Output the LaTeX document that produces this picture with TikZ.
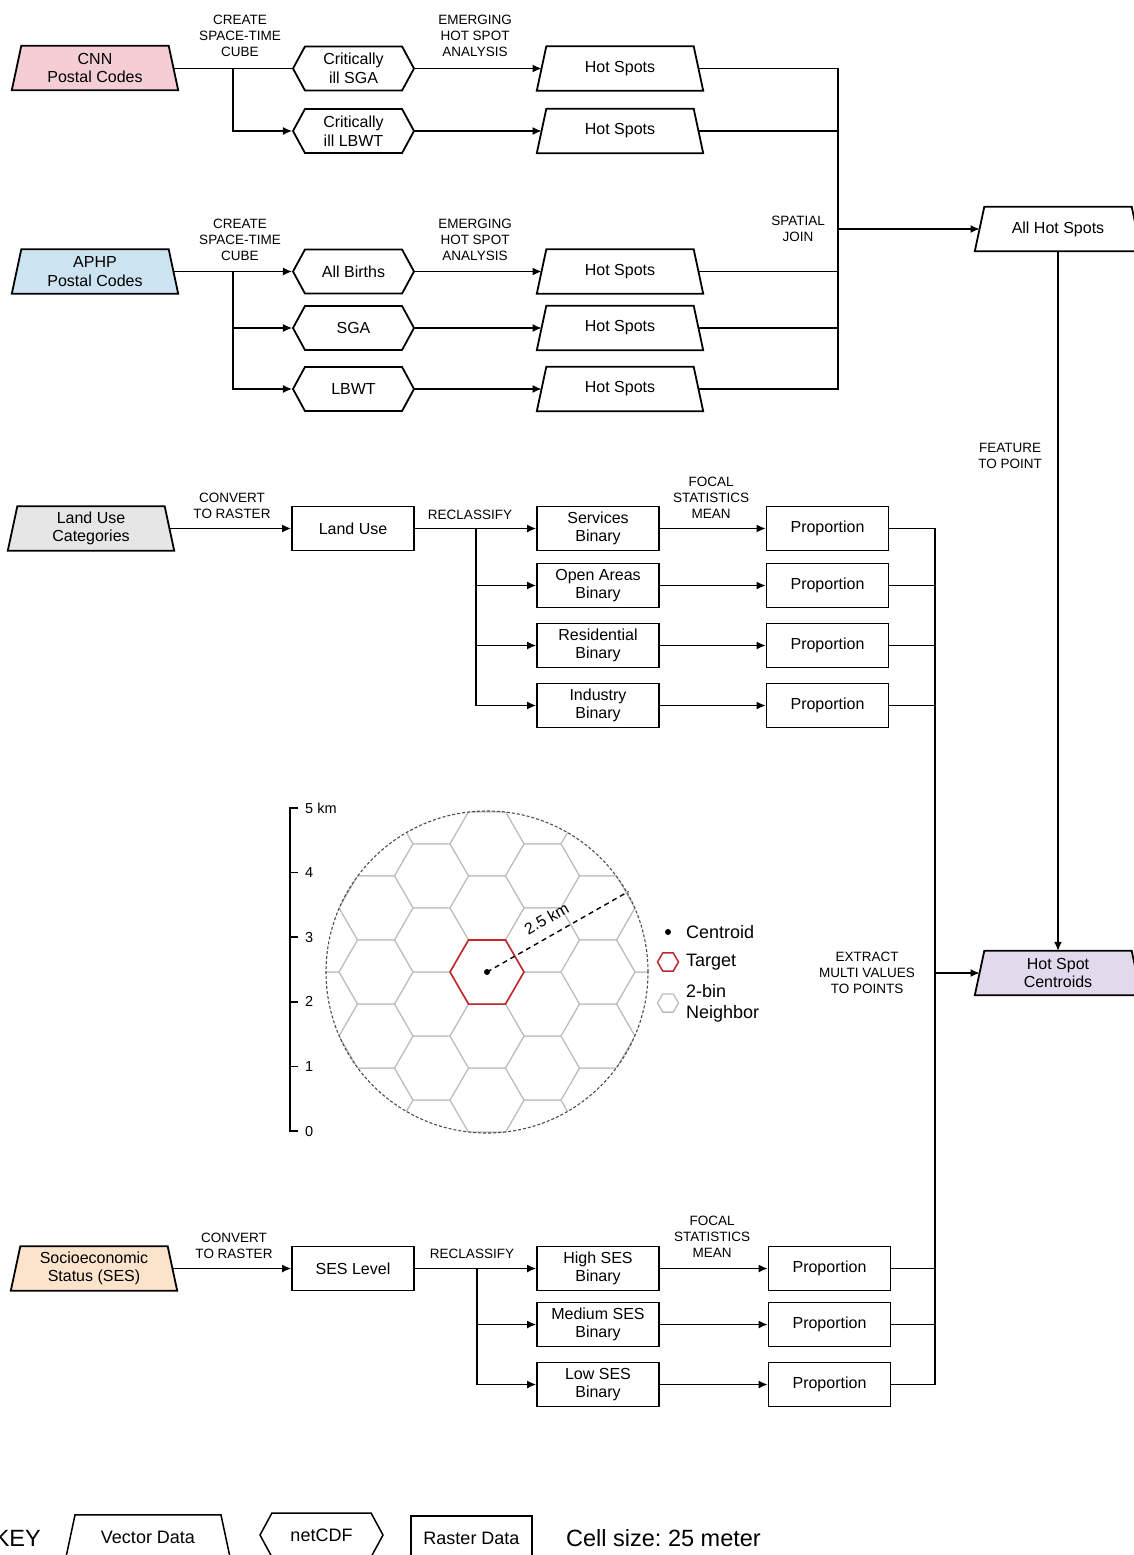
\documentclass[tikz,border=0pt]{standalone}
\usepackage{fontspec}
\setmainfont{Liberation Sans}
\usetikzlibrary{shapes.geometric,shapes.symbols,arrows.meta,backgrounds}
\definecolor{cnnpink}{HTML}{F4CDD5}
\definecolor{aphpblue}{HTML}{CCE4F2}
\definecolor{lugray}{HTML}{E6E6E6}
\definecolor{sespeach}{HTML}{FCE4CC}
\definecolor{centpurple}{HTML}{E2DAEC}
\definecolor{hexgray}{HTML}{BDBDBD}
\definecolor{targetred}{HTML}{C0282D}
\newcommand\fMain{\fontsize{16pt}{18.5pt}\selectfont}
\newcommand\fLbl{\fontsize{13.5pt}{16pt}\selectfont}
\newcommand\fLeg{\fontsize{18pt}{21pt}\selectfont}
\newcommand\fAx{\fontsize{14.5pt}{16pt}\selectfont}
\newcommand\fKeyS{\fontsize{18pt}{20pt}\selectfont}
\newcommand\fKeyL{\fontsize{23.5pt}{26pt}\selectfont}
\frenchspacing
\begin{document}
\begin{tikzpicture}[x=1pt,y=-1pt,
  vec/.style={rectangle, minimum width=156.5pt, minimum height=44pt, inner sep=1pt,
    align=center, font=\fMain},
  trap/.style={line width=1.8pt, draw=black},
  nc/.style={signal, signal to=west and east, signal pointer angle=123, draw, line width=1.8pt,
    minimum width=121pt, minimum height=44pt, inner sep=1pt, align=center, font=\fMain},
  ras/.style={rectangle, draw, line width=1.8pt, minimum width=122pt, minimum height=44pt,
    inner sep=1pt, align=center, font=\fMain},
  conn/.style={line width=1.3pt},
  arr/.style={conn, -{Latex[length=9pt,width=8pt]}},
  lbl/.style={align=center, font=\fLbl, inner sep=0pt},
  hexgrid/.style={draw=hexgray, line width=1pt},
]
\useasboundingbox (0,0) rectangle (1134,1555);

% ---------- CNN block ----------
\node[vec] (cnn) at (95,68) {CNN\\Postal Codes};
\node[nc] (csga) at (353.5,68.5) {Critically\\ill SGA};
\node[nc] (clbwt) at (353.5,131) {Critically\\ill LBWT};
\node[vec] (hs1) at (620,68.5) {Hot Spots};
\node[vec] (hs2) at (620,131) {Hot Spots};
\node[lbl] (t1) at (240,36) {CREATE\\SPACE-TIME\\CUBE};
\node[lbl] (t2) at (475,36) {EMERGING\\HOT SPOT\\ANALYSIS};
\coordinate (b1) at (233,68.5);
\draw[conn] (cnn.east |- csga.west) -- (csga.west);
\draw[arr] (b1) |- (clbwt.west);
\draw[arr] (csga.east) -- (hs1.west);
\draw[arr] (clbwt.east) -- (hs2.west);

% ---------- APHP block ----------
\node[vec] (aphp) at (95,271.5) {APHP\\Postal Codes};
\node[nc] (ab) at (353.5,271.5) {All Births};
\node[nc] (sga) at (353.5,328) {SGA};
\node[nc] (lbwt) at (353.5,389) {LBWT};
\node[vec] (hs3) at (620,271.5) {Hot Spots};
\node[vec] (hs4) at (620,328) {Hot Spots};
\node[vec] (hs5) at (620,389) {Hot Spots};
\node[lbl] (t3) at (240,240) {CREATE\\SPACE-TIME\\CUBE};
\node[lbl] (t4) at (475,240) {EMERGING\\HOT SPOT\\ANALYSIS};
\coordinate (b2) at (233,271.5);
\draw[arr] (aphp.east) -- (ab.west);
\draw[arr] (b2) |- (sga.west);
\draw[arr] (b2) |- (lbwt.west);
\draw[arr] (ab.east) -- (hs3.west);
\draw[arr] (sga.east) -- (hs4.west);
\draw[arr] (lbwt.east) -- (hs5.west);

% ---------- spatial join ----------
\node[lbl] (t5) at (798,228.5) {SPATIAL\\JOIN};
\node[vec] (allhs) at (1058,229) {All Hot Spots};
\coordinate (sj) at (838,229);
\foreach \n in {hs1,hs2,hs3,hs4,hs5} \draw[conn] (\n.east) -| (sj);
\draw[arr] (sj) -- (allhs.west);

\node[lbl] (t6) at (1010,455.5) {FEATURE\\TO POINT};
\node[vec] (cent) at (1058,973) {Hot Spot\\Centroids};
\draw[arr] (allhs.south) -- (cent.north);
\node[lbl] (t7) at (867,972.5) {EXTRACT\\MULTI VALUES\\TO POINTS};

% ---------- Land use block ----------
\node[vec] (luc) at (91,528.5) {Land Use\\Categories};
\node[ras] (lu) at (353,528.5) {Land Use};
\node[ras] (sb) at (598,528.5) {Services\\Binary};
\node[ras] (ob) at (598,585.5) {Open Areas\\Binary};
\node[ras] (rb) at (598,645.5) {Residential\\Binary};
\node[ras] (ib) at (598,705.5) {Industry\\Binary};
\node[ras] (p1) at (827.5,528.5) {Proportion};
\node[ras] (p2) at (827.5,585.5) {Proportion};
\node[ras] (p3) at (827.5,645.5) {Proportion};
\node[ras] (p4) at (827.5,705.5) {Proportion};
\node[lbl] (t8) at (232,505.5) {CONVERT\\TO RASTER};
\node[lbl] (t9) at (470,514.5) {RECLASSIFY};
\node[lbl] (t10) at (711,497.5) {FOCAL\\STATISTICS\\MEAN};
\coordinate (b3) at (476,528.5);
\draw[arr] (luc.east) -- (lu.west);
\draw[arr] (lu.east) -- (sb.west);
\draw[arr] (b3) |- (ob.west);
\draw[arr] (b3) |- (rb.west);
\draw[arr] (b3) |- (ib.west);
\draw[arr] (sb.east) -- (p1.west);
\draw[arr] (ob.east) -- (p2.west);
\draw[arr] (rb.east) -- (p3.west);
\draw[arr] (ib.east) -- (p4.west);

% ---------- SES block ----------
\node[vec] (ses) at (94,1268.5) {Socioeconomic\\Status (SES)};
\node[ras] (sl) at (353,1268.5) {SES Level};
\node[ras] (hb) at (598,1268.5) {High SES\\Binary};
\node[ras] (mb) at (598,1324.5) {Medium SES\\Binary};
\node[ras] (lb) at (598,1384.5) {Low SES\\Binary};
\node[ras] (p5) at (829.5,1268.5) {Proportion};
\node[ras] (p6) at (829.5,1324.5) {Proportion};
\node[ras] (p7) at (829.5,1384.5) {Proportion};
\node[lbl] (t11) at (234,1245.5) {CONVERT\\TO RASTER};
\node[lbl] (t12) at (472,1253.5) {RECLASSIFY};
\node[lbl] (t13) at (712,1236.5) {FOCAL\\STATISTICS\\MEAN};
\coordinate (b4) at (477,1268.5);
\draw[arr] (ses.east) -- (sl.west);
\draw[arr] (sl.east) -- (hb.west);
\draw[arr] (b4) |- (mb.west);
\draw[arr] (b4) |- (lb.west);
\draw[arr] (hb.east) -- (p5.west);
\draw[arr] (mb.east) -- (p6.west);
\draw[arr] (lb.east) -- (p7.west);

% ---------- extract ----------
\coordinate (ex) at (935,973);
\foreach \n in {p1,p2,p3,p4,p5,p6,p7} \draw[conn] (\n.east) -| (ex);
\draw[arr] (ex) -- (cent.west);

% ---------- hexagon neighbourhood ----------
\begin{scope}
\clip (487,972) circle (161pt);
\foreach \i in {-4,...,4} {
  \foreach \j in {-4,...,4} {
    \pgfmathsetmacro\cx{487+55.5*\i}
    \pgfmathsetmacro\cy{972+64.09*\j+32.04*mod(abs(\i),2)}
    \draw[hexgrid] (\cx+37,\cy) -- (\cx+18.5,\cy+32.04) -- (\cx-18.5,\cy+32.04)
      -- (\cx-37,\cy) -- (\cx-18.5,\cy-32.04) -- (\cx+18.5,\cy-32.04) -- cycle;
  }
}
\end{scope}
\draw[draw=black!70, line width=1.1pt, dash pattern=on 3pt off 2pt] (487,972) circle (161pt);
\draw[draw=targetred, line width=1.6pt] (524,972) -- (505.5,1004.04) -- (468.5,1004.04)
  -- (450,972) -- (468.5,939.96) -- (505.5,939.96) -- cycle;
\coordinate (ctr) at (487,972);
\coordinate (rim) at (628.5,891.5);
\fill (ctr) circle (3pt);
\draw[line width=1.4pt, dash pattern=on 5pt off 4pt] (ctr) -- (rim);
\node[rotate=29.6, font=\fMain, inner sep=0pt] (rl) at (546.5,918.5) {2.5 km};

% scale axis
\draw[line width=1.6pt] (298,808) -- (290,808) -- (290,1131) -- (298,1131);
\foreach \yy in {872.6,937.2,1001.8,1066.4} \draw[line width=1.6pt] (290,\yy) -- (298,\yy);
\node[anchor=west, font=\fAx, inner sep=0pt] (a5) at (305,808) {5 km};
\node[anchor=west, font=\fAx, inner sep=0pt] (a4) at (305,872.6) {4};
\node[anchor=west, font=\fAx, inner sep=0pt] (a3) at (305,937.2) {3};
\node[anchor=west, font=\fAx, inner sep=0pt] (a2) at (305,1001.8) {2};
\node[anchor=west, font=\fAx, inner sep=0pt] (a1) at (305,1066.4) {1};
\node[anchor=west, font=\fAx, inner sep=0pt] (a0) at (305,1131) {0};

% legend
\fill (668,932) circle (3pt);
\node[anchor=west, font=\fLeg, inner sep=0pt] (lg1) at (686,932) {Centroid};
\draw[draw=targetred, line width=1.5pt] (678.5,962) -- (673.25,971.1) -- (662.75,971.1)
  -- (657.5,962) -- (662.75,952.9) -- (673.25,952.9) -- cycle;
\node[anchor=west, font=\fLeg, inner sep=0pt] (lg2) at (686,962.5) {Target};
\draw[draw=hexgray, line width=1.3pt] (678.5,1003) -- (673.25,1012.1) -- (662.75,1012.1)
  -- (657.5,1003) -- (662.75,993.9) -- (673.25,993.9) -- cycle;
\node[anchor=west, font=\fLeg, inner sep=0pt, align=left] (lg3) at (686,1003.5) {2-bin\\Neighbor};

% ---------- key ----------
\node[anchor=east, font=\fKeyL, inner sep=0pt] (key) at (41,1538) {KEY};
\node[vec, font=\fKeyS, minimum width=155pt] (kv) at (148,1537) {Vector Data};
\node[nc, font=\fKeyS, line width=1.5pt, minimum width=123pt] (kn) at (321.5,1535) {netCDF};
\node[ras, font=\fKeyS, line width=1.5pt, minimum width=121pt] (kr) at (471.5,1538) {Raster Data};
\node[anchor=west, font=\fKeyL, inner sep=0pt] (cs) at (566,1538) {Cell size: 25 meter};

% ---------- vector-data trapezia, white page behind everything ----------
\begin{scope}[on background layer]
\fill[white] (0,0) rectangle (1134,1555);
\foreach \n/\c/\w in {cnn/cnnpink/1.8, aphp/aphpblue/1.8, luc/lugray/1.8, ses/sespeach/1.8,
    hs1/white/1.8, hs2/white/1.8, hs3/white/1.8, hs4/white/1.8, hs5/white/1.8,
    allhs/white/1.8, cent/centpurple/1.8, kv/white/1.5}
  \filldraw[trap, fill=\c, line width=\w pt]
    ([xshift=-4.75pt]\n.south west) -- ([xshift=4.75pt]\n.north west)
    -- ([xshift=-4.75pt]\n.north east) -- ([xshift=4.75pt]\n.south east) -- cycle;
\end{scope}
\end{tikzpicture}
\end{document}
